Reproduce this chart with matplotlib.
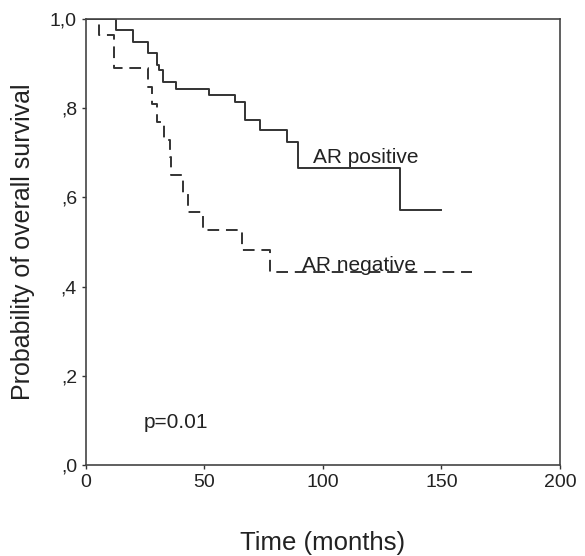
import matplotlib
matplotlib.use("Agg")
from matplotlib import pyplot as plt

# Kaplan-Meier steps (time in months, survival)
pos_time = [0, 12.7, 20, 26, 30, 31, 32.5, 38, 52, 63, 67, 73.4, 84.8, 89.5, 132.5, 150]
pos_surv = [1.0, 0.975, 0.948, 0.924, 0.897, 0.886, 0.859, 0.843, 0.83, 0.814, 0.774,
            0.751, 0.724, 0.666, 0.572, 0.572]

neg_time = [0, 5.5, 12, 26, 28, 30, 33, 35.4, 36, 41, 43, 49.4, 66, 77.6, 163]
neg_surv = [1.0, 0.964, 0.89, 0.848, 0.81, 0.77, 0.729, 0.69, 0.65, 0.61, 0.567,
            0.527, 0.482, 0.433, 0.433]

x_ticks = [0, 50, 100, 150, 200]
y_ticks = [0, 0.2, 0.4, 0.6, 0.8, 1.0]
y_labels = [",0", ",2", ",4", ",6", ",8", "1,0"]

plt.rcParams['font.family'] = ['Liberation Sans', 'DejaVu Sans']

fig = plt.figure(figsize=(5.85, 5.56), dpi=100)
ax = fig.add_axes([0.147, 0.1637, 0.81, 0.8023])

col = '#333333'
ax.step(pos_time, pos_surv, where='post', color=col, linewidth=1.4)
ax.step(neg_time, neg_surv, where='post', color=col, linewidth=1.4,
        linestyle=(0, (6, 3.5)))

ax.text(95.8, 0.69, "AR positive", fontsize=15, color='#222222', va='center')
ax.text(91, 0.448, "AR negative", fontsize=15, color='#222222', va='center')
ax.text(24.5, 0.096, "p=0.01", fontsize=15, color='#222222', va='center')

ax.set_xlim(0, 200)
ax.set_ylim(0, 1.0)
ax.set_xticks(x_ticks)
ax.set_yticks(y_ticks)
ax.set_yticklabels(y_labels)
ax.tick_params(direction='out', length=3, width=1, colors='#333333',
               labelsize=14, labelcolor='#222222')
for s in ax.spines.values():
    s.set_color('#444444')
    s.set_linewidth(1.2)

ax.set_xlabel("Time (months)", fontsize=18.5, labelpad=29, color='#222222')
ax.set_ylabel("Probability of overall survival", fontsize=18, labelpad=11,
              color='#222222')

fig.savefig("out.png", dpi=100)
